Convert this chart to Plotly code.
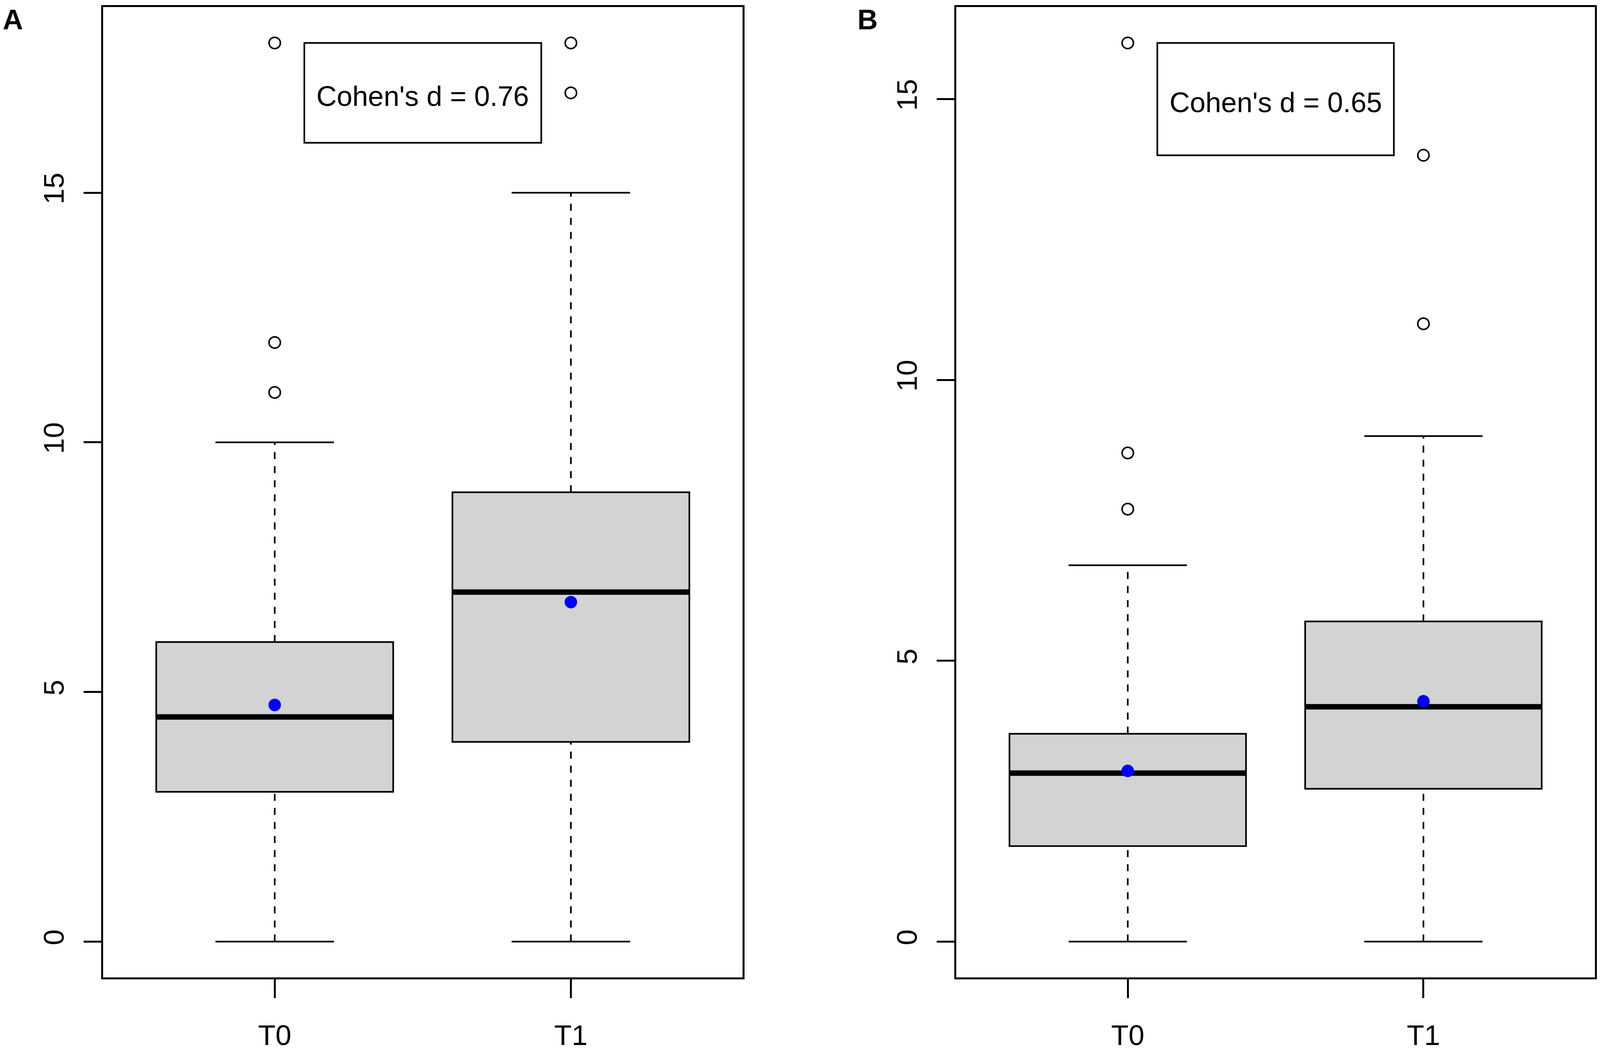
import plotly.graph_objects as go

# ---------------- data ----------------
groups = ["T0", "T1"]
positions = [1, 2]

# Panel A
a_lower = [0, 0]
a_q1 = [3, 4]
a_median = [4.5, 7]
a_q3 = [6, 9]
a_upper = [10, 15]
a_mean = [4.74, 6.8]
a_outliers = [[11, 12, 18], [17, 18]]
a_cohen = "Cohen's d = 0.76"

# Panel B
b_lower = [0, 0]
b_q1 = [1.7, 2.72]
b_median = [3.0, 4.18]
b_q3 = [3.7, 5.7]
b_upper = [6.7, 9]
b_mean = [3.04, 4.28]
b_outliers = [[7.7, 8.7, 16], [11, 14]]
b_cohen = "Cohen's d = 0.65"

yticks = [0, 5, 10, 15]

# ---------------- layout geometry ----------------
# The figure fills the browser viewport; positions are fractions of the
# reference picture (4550 x 2697), corrected for the 8px page margin.
REF_W, REF_H = 4550, 2697
VW, VH = 4095, 2690   # estimated CSS viewport
M = 8


def fx(X):
    return (X / REF_W * VW - M) / (VW - 2 * M)


def fy(Y):
    return 1 - (Y / REF_H * VH - M) / (VH - 2 * M)


FONT = "Liberation Sans, Arial, sans-serif"
LW = 4.5
BLW = 4.2
BOX_W = 0.8
CAP_HALF = 0.2
FILL = "#D3D3D3"

fig = go.Figure()


def add_panel(xa, ya, lower, q1, med, q3, upper, mean, outliers):
    for i, x in enumerate(positions):
        fig.add_trace(go.Box(
            x=[x], q1=[q1[i]], median=[med[i]], q3=[q3[i]],
            lowerfence=[q1[i]], upperfence=[q3[i]],
            width=BOX_W, fillcolor=FILL, whiskerwidth=0,
            line=dict(color="black", width=BLW), boxpoints=False,
            xaxis=xa, yaxis=ya, showlegend=False, hoverinfo="skip"))
        # dashed whiskers
        for y0, y1 in [(lower[i], q1[i]), (q3[i], upper[i])]:
            fig.add_trace(go.Scatter(
                x=[x, x], y=[y0, y1], mode="lines",
                line=dict(color="black", width=BLW, dash="18px,18px"),
                xaxis=xa, yaxis=ya, showlegend=False, hoverinfo="skip"))
        # whisker caps
        for yv in [lower[i], upper[i]]:
            fig.add_trace(go.Scatter(
                x=[x - CAP_HALF, x + CAP_HALF], y=[yv, yv], mode="lines",
                line=dict(color="black", width=BLW),
                xaxis=xa, yaxis=ya, showlegend=False, hoverinfo="skip"))
        # median (thick)
        fig.add_trace(go.Scatter(
            x=[x - BOX_W / 2, x + BOX_W / 2], y=[med[i], med[i]], mode="lines",
            line=dict(color="black", width=14),
            xaxis=xa, yaxis=ya, showlegend=False, hoverinfo="skip"))
        # outliers
        fig.add_trace(go.Scatter(
            x=[x] * len(outliers[i]), y=outliers[i], mode="markers",
            marker=dict(symbol="circle-open", size=29, color="black",
                        line=dict(width=4, color="black")),
            xaxis=xa, yaxis=ya, showlegend=False, hoverinfo="skip"))
    # means
    fig.add_trace(go.Scatter(
        x=positions, y=mean, mode="markers",
        marker=dict(symbol="circle", size=32, color="#0000FF"),
        xaxis=xa, yaxis=ya, showlegend=False, hoverinfo="skip"))


add_panel("x", "y", a_lower, a_q1, a_median, a_q3, a_upper, a_mean, a_outliers)
add_panel("x2", "y2", b_lower, b_q1, b_median, b_q3, b_upper, b_mean, b_outliers)

# legend boxes (Cohen's d)
legend_x = [1.1, 1.9]
legend_boxes = [("x", "y", 16, 18, a_cohen), ("x2", "y2", 14, 16, b_cohen)]
for xa, ya, y0, y1, txt in legend_boxes:
    fig.add_shape(type="rect", xref=xa, yref=ya,
                  x0=legend_x[0], x1=legend_x[1], y0=y0, y1=y1,
                  line=dict(color="black", width=BLW), fillcolor="white",
                  layer="above")
    fig.add_annotation(xref=xa, yref=ya, x=sum(legend_x) / 2, y=(y0 + y1) / 2,
                       yshift=-8, text=txt, showarrow=False,
                       font=dict(family=FONT, size=72, color="black"))

# panel letters
for label, X in [("A", 6), ("B", 2439)]:
    fig.add_annotation(xref="paper", yref="paper", x=fx(X), y=1,
                       xanchor="left", yanchor="top", text="<b>%s</b>" % label,
                       showarrow=False,
                       font=dict(family=FONT, size=72, color="black"))

ydom = [fy(2505), fy(18)]
axis_common = dict(showline=True, mirror=True, linecolor="black", linewidth=LW,
                   ticks="outside", tickwidth=LW, tickcolor="black",
                   showgrid=False, zeroline=False,
                   tickfont=dict(family=FONT, size=73, color="black"))
xaxis_common = dict(ticklen=48, tickvals=positions, ticktext=groups,
                    ticklabelstandoff=32, range=[0.42, 2.58], **axis_common)
yaxis_common = dict(ticklen=45, tickvals=yticks, tickangle=-90,
                    ticklabelstandoff=22, domain=ydom, **axis_common)

fig.update_layout(
    autosize=True, margin=dict(l=0, r=0, t=0, b=0),
    paper_bgcolor="white", plot_bgcolor="white", boxmode="overlay",
    showlegend=False,
    xaxis=dict(domain=[fx(293), fx(2114)], anchor="y", **xaxis_common),
    yaxis=dict(range=[-0.72, 18.72], anchor="x", **yaxis_common),
    xaxis2=dict(domain=[fx(2722), fx(4540)], anchor="y2", **xaxis_common),
    yaxis2=dict(range=[-0.64, 16.64], anchor="x2", **yaxis_common),
)

fig.write_html("out.html", config={"responsive": True},
               default_width="calc(100vw - 16px)",
               default_height="calc(100vh - 16px)")
